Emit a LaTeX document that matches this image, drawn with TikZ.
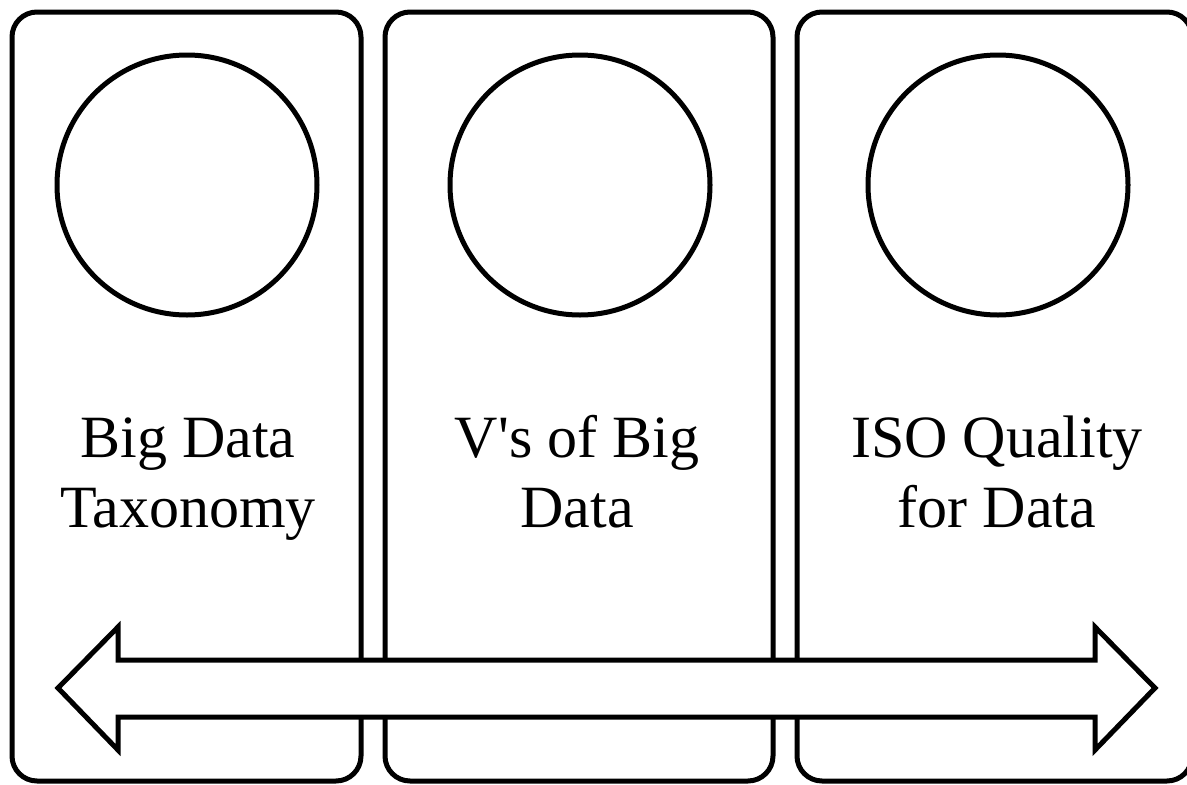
\documentclass[tikz,border=0pt]{standalone}
\usepackage{fontspec}
\setmainfont{Liberation Serif}[Ligatures=TeXOff]
\begin{document}
\begin{tikzpicture}[x=1pt,y=-1pt,
  panel/.style={draw=black,line width=5pt,rounded corners=25pt},
  ring/.style={draw=black,line width=5pt,circle,minimum size=260pt,inner sep=0pt},
  label/.style={align=center,inner sep=0pt,anchor=base,font=\fontsize{60}{70}\selectfont},
  bigarrow/.style={draw=black,fill=white,line width=5pt,line join=miter}]
\useasboundingbox (0,0) rectangle (1187,785);
\begin{scope}
\clip (0,0) rectangle (1187,785);
\draw[panel] (12,12) rectangle (361,781);
\draw[panel] (385,12) rectangle (773,781);
\draw[panel] (797,12) rectangle (1192,781);
\end{scope}
\node[ring] (c1) at (187,185) {};
\node[ring] (c2) at (580,185) {};
\node[ring] (c3) at (998,185) {};
\node[label] (t1) at (188,527) {Big Data\\Taxonomy};
\node[label] (t2) at (577,527) {V's of Big\\Data};
\node[label] (t3) at (997,527) {ISO Quality\\for Data};
\coordinate (L) at (58,688);
\coordinate (R) at (1155,688);
\draw[bigarrow] (L) -- (118,627) -- (118,660) -- (1095,660) -- (1095,627) -- (R)
  -- (1095,750) -- (1095,717) -- (118,717) -- (118,750) -- cycle;
\end{tikzpicture}
\end{document}
